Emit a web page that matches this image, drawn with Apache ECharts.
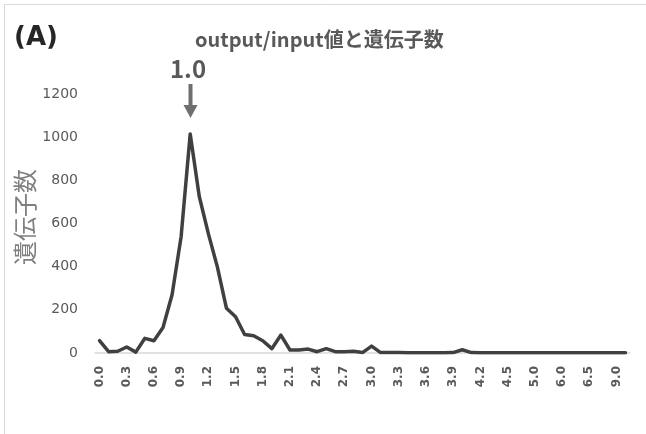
<!DOCTYPE html>
<html><head><meta charset="utf-8">
<script src="https://cdn.jsdelivr.net/npm/echarts@6/dist/echarts.min.js"></script>
<style>html,body{margin:0;padding:0;background:#fff}#c{width:646px;height:434px}</style>
</head><body><div id="c"></div>
<script>
const categories = ['0.0','0.1','0.2','0.3','0.4','0.5','0.6','0.7','0.8','0.9',
  '1.0','1.1','1.2','1.3','1.4','1.5','1.6','1.7','1.8','1.9',
  '2.0','2.1','2.2','2.3','2.4','2.5','2.6','2.7','2.8','2.9',
  '3.0','3.1','3.2','3.3','3.4','3.5','3.6','3.7','3.8','3.9',
  '4.0','4.1','4.2','4.3','4.4','4.5','4.6','4.8','5.0','5.5',
  '5.8','6.0','6.2','6.3','6.5','7.0','8.0','9.0','10.0'];
const geneCounts = [57,6,8,28,4,68,57,118,270,540,
  1015,725,553,398,207,168,86,80,57,20,
  83,14,14,18,6,20,6,6,8,2,
  32,2,2,2,1,1,1,1,1,2,
  15,2,1,1,1,1,1,1,1,1,
  1,1,1,1,1,1,1,1,1];
const yTicks = {min:0, max:1200, interval:200};
const titleText = 'output/input値と遺伝子数';
const yName = '遺伝子数';
const panelLabel = '(A)';
const peakLabel = '1.0';

const font = "'Noto Sans CJK JP', 'Noto Sans', sans-serif";
const numFont = "'DejaVu Sans', sans-serif";
const chart = echarts.init(document.getElementById('c'), null, {renderer:'canvas'});
chart.setOption({
  animation:false,
  backgroundColor:'#fff',
  title:{text:titleText, left:190, top:24,
    textStyle:{fontFamily:font, fontSize:20, fontWeight:'bold', color:'#595959'}},
  grid:{left:95, right:16, top:94, bottom:81, containLabel:false},
  xAxis:{type:'category', data:categories, boundaryGap:true,
    axisLine:{lineStyle:{color:'#d9d9d9', width:1.5}},
    axisTick:{show:false},
    axisLabel:{interval:2, rotate:90, margin:13, fontFamily:numFont, fontSize:12, fontWeight:'bold', color:'#595959'}},
  yAxis:{type:'value', min:yTicks.min, max:yTicks.max, interval:yTicks.interval,
    axisLine:{show:false}, axisTick:{show:false}, splitLine:{show:false},
    axisLabel:{margin:17, fontFamily:numFont, fontSize:14, color:'#595959',
      formatter:function(v){return String(v);}}},
  series:[{type:'line', data:geneCounts, symbol:'none', smooth:false,
    lineStyle:{color:'#404040', width:3.5, join:'round', cap:'round'}}],
  graphic:[
    {type:'rect', shape:{x:4.5, y:4.5, width:700, height:700}, style:{fill:null, stroke:'#d9d9d9', lineWidth:1}},
    {type:'text', left:14, top:25, style:{text:panelLabel, font:"bold 26px "+numFont, fill:'#262626'}},
    {type:'text', x:25, y:217, rotation:Math.PI/2, style:{text:yName, font:"24px "+font, fill:'#808080', align:'center', verticalAlign:'middle'}},
    {type:'text', x:188, y:69, style:{text:peakLabel, font:"bold 24px "+font, fill:'#595959', align:'center', verticalAlign:'middle'}},
    {type:'rect', shape:{x:188.5, y:84, width:4, height:22}, style:{fill:'#6f6f6f'}},
    {type:'polygon', shape:{points:[[183.5,105],[197.5,105],[190.5,118]]}, style:{fill:'#6f6f6f'}}
  ]
});
</script></body></html>
